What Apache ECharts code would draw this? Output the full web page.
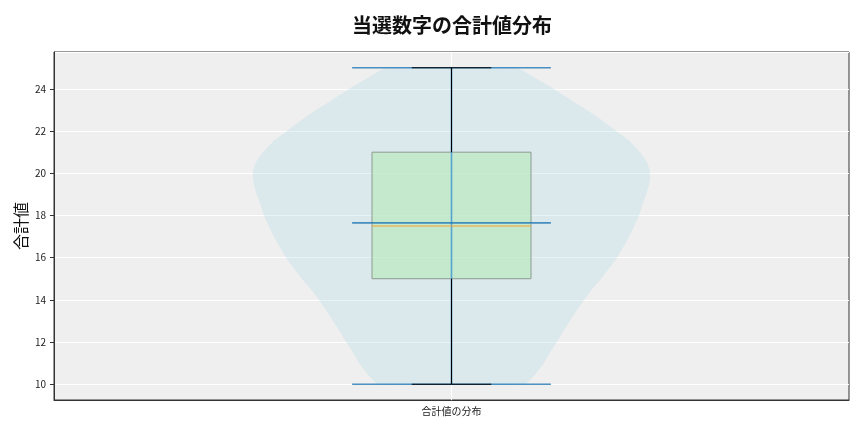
<!DOCTYPE html>
<html lang="ja">
<head>
    <meta charset="UTF-8">
    <title>当選数字の合計値分布</title>
    <script src="https://cdn.jsdelivr.net/npm/echarts@6/dist/echarts.min.js"></script>
    <style>
        html, body { margin: 0; padding: 0; background: #fff; }
        #chart { width: 864px; height: 432px; }
    </style>
</head>
<body>
<div id="chart"></div>
<script>
    var categories = ['合計値の分布'];

    // violin outline: y value and relative half-width (1 = widest point)
    var violinY = [10, 10.5, 11, 11.5, 12, 12.5, 13, 13.5, 14, 14.5, 15, 15.5, 16, 16.5, 17, 17.5,
        18, 18.5, 19, 19.5, 20, 20.5, 21, 21.5, 22, 22.5, 23, 23.5, 24, 24.5, 25];
    var violinWidth = [0.369, 0.424, 0.465, 0.495, 0.530, 0.561, 0.596, 0.631, 0.667, 0.707, 0.753, 0.793,
        0.833, 0.864, 0.894, 0.919, 0.944, 0.960, 0.980, 0.995, 1.0, 0.985, 0.949, 0.899, 0.828, 0.758,
        0.682, 0.596, 0.515, 0.424, 0.328];

    // min, q1, median, q3, max
    var boxStats = [10, 15, 17.5, 21, 25];
    var meanValue = 17.65;

    var yTicks = [10, 12, 14, 16, 18, 20, 22, 24];

    var chart = echarts.init(document.getElementById('chart'));

    function seg(x1, y1, x2, y2, color, width) {
        return {
            type: 'line',
            shape: {x1: x1, y1: y1, x2: x2, y2: y2},
            style: {stroke: color, lineWidth: width}
        };
    }

    function renderItem(params, api) {
        var band = api.size([1, 0])[0];
        var cx = api.coord([0, boxStats[0]])[0];
        var left = [], right = [];
        for (var i = 0; i < violinY.length; i++) {
            var p = api.coord([0, violinY[i]]);
            var hw = violinWidth[i] * 0.25 * band;
            left.push([p[0] - hw, p[1]]);
            right.unshift([p[0] + hw, p[1]]);
        }
        var yMin = api.coord([0, boxStats[0]])[1];
        var yQ1 = api.coord([0, boxStats[1]])[1];
        var yMed = api.coord([0, boxStats[2]])[1];
        var yQ3 = api.coord([0, boxStats[3]])[1];
        var yMax = api.coord([0, boxStats[4]])[1];
        var yMean = api.coord([0, meanValue])[1];
        var gTop = params.coordSys.y;
        var gBot = params.coordSys.y + params.coordSys.height;

        var ext = 0.125 * band, boxW = 0.1 * band, cap = 0.05 * band;
        var blue = 'rgba(31,119,180,0.8)';

        var children = [
            // vertical grid line at the tick
            seg(cx, gTop, cx, gBot, '#ffffff', 1),
            {
                type: 'polygon',
                shape: {points: left.concat(right), smooth: 0.1},
                style: {fill: 'rgba(173,216,230,0.3)'}
            },
            {
                type: 'rect',
                shape: {x: cx - boxW, y: yQ3, width: boxW * 2, height: yQ1 - yQ3},
                style: {fill: 'rgba(186,233,192,0.7)', stroke: '#8d9c91', lineWidth: 1}
            },
            seg(cx, yMax, cx, yMin, 'rgba(66,150,210,0.85)', 1.6),
            seg(cx - ext, yMax, cx + ext, yMax, blue, 1.6),
            seg(cx - ext, yMin, cx + ext, yMin, blue, 1.6),
            seg(cx - ext, yMean, cx + ext, yMean, blue, 1.6),
            seg(cx, yQ3, cx, yMax, '#000000', 1.1),
            seg(cx, yQ1, cx, yMin, '#000000', 1.1),
            seg(cx - cap, yMax, cx + cap, yMax, '#000000', 1.1),
            seg(cx - cap, yMin, cx + cap, yMin, '#000000', 1.1),
            seg(cx - boxW, yMed, cx + boxW, yMed, '#f5a033', 1.2)
        ];
        return {type: 'group', children: children};
    }

    var option = {
        backgroundColor: '#ffffff',
        animation: false,
        textStyle: {fontFamily: 'Noto Sans CJK JP'},
        title: {
            text: '当選数字の合計値分布',
            left: 347,
            top: 10,
            textStyle: {fontSize: 20, fontWeight: 'bold', color: '#111', fontFamily: 'Noto Sans CJK JP'}
        },
        grid: {
            left: 54, right: 15, top: 52, bottom: 32,
            show: true,
            backgroundColor: '#efefef',
            borderColor: '#333',
            borderWidth: 1
        },
        xAxis: {
            type: 'category',
            data: categories,
            boundaryGap: true,
            axisLine: {lineStyle: {color: '#333'}},
            axisTick: {alignWithLabel: true, length: 4, lineStyle: {color: '#333'}},
            axisLabel: {fontSize: 10, color: '#222', margin: 6},
            splitLine: {show: false}
        },
        yAxis: {
            type: 'value',
            min: 9.25,
            max: 25.75,
            splitNumber: 8,
            name: '合計値',
            nameLocation: 'middle',
            nameGap: 25,
            nameMoveOverlap: false,
            nameTextStyle: {fontSize: 16, color: '#111'},
            axisLine: {show: true, lineStyle: {color: '#333'}},
            axisTick: {show: true, length: 4, lineStyle: {color: '#333'}},
            axisLabel: {
                fontSize: 10, color: '#222', margin: 8,
                showMinLabel: false, showMaxLabel: false,
                formatter: function (v) { return yTicks.indexOf(v) >= 0 ? String(v) : ''; }
            },
            splitLine: {show: true, lineStyle: {color: '#ffffff', width: 1}}
        },
        series: [{
            type: 'custom',
            renderItem: renderItem,
            data: [[0, boxStats[2]]],
            z: 5
        }]
    };

    chart.setOption(option);
</script>
</body>
</html>
